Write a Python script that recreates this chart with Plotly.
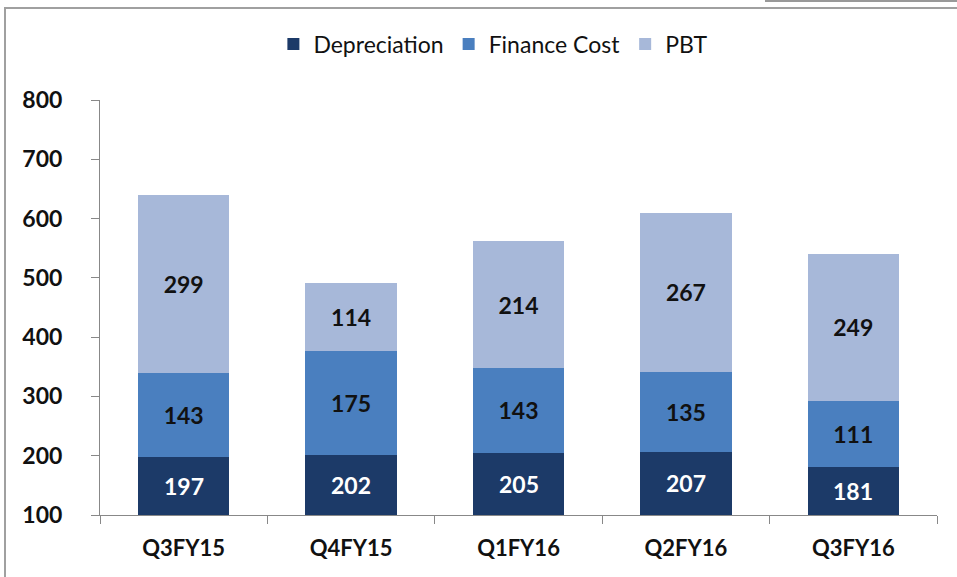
import plotly.graph_objects as go

categories = ["Q3FY15", "Q4FY15", "Q1FY16", "Q2FY16", "Q3FY16"]
depreciation = [197, 202, 205, 207, 181]
finance_cost = [143, 175, 143, 135, 111]
pbt = [299, 114, 214, 267, 249]
y_ticks = [100, 200, 300, 400, 500, 600, 700, 800]

c_dep = "#1c3a68"
c_fin = "#4a7fbf"
c_pbt = "#a7b8d9"

FONT = "Lato, Open Sans, sans-serif"
LBL = 23

fig = go.Figure()
fig.add_trace(go.Bar(name="Depreciation", x=categories, y=depreciation,
                     marker=dict(color=c_dep, line=dict(width=0)), textposition="none"))
fig.add_trace(go.Bar(name="Finance Cost", x=categories, y=finance_cost,
                     marker=dict(color=c_fin, line=dict(width=0)),
                     text=finance_cost, textposition="inside", insidetextanchor="middle",
                     textfont=dict(family=FONT, size=LBL, color="#111111", weight="bold"),
                     textangle=0))
fig.add_trace(go.Bar(name="PBT", x=categories, y=pbt,
                     marker=dict(color=c_pbt, line=dict(width=0)),
                     text=pbt, textposition="inside", insidetextanchor="middle",
                     textfont=dict(family=FONT, size=LBL, color="#111111", weight="bold"),
                     textangle=0))

y_min = y_ticks[0]
for c, d in zip(categories, depreciation):
    fig.add_annotation(x=c, y=(y_min + d) / 2, text=f"<b>{d}</b>", showarrow=False,
                       font=dict(family=FONT, size=LBL, color="white"), xref="x", yref="y")

PX_L, PX_R, PX_T, PX_B = 100, 937, 100, 515
pw, ph = PX_R - PX_L, PX_B - PX_T


def px(x):
    return (x - PX_L) / pw


def py(y):
    return (PX_B - y) / ph


fig.update_layout(
    barmode="stack",
    bargap=0.455,
    width=957, height=577,
    margin=dict(l=PX_L, r=957 - PX_R, t=PX_T, b=577 - PX_B, autoexpand=False),
    paper_bgcolor="white", plot_bgcolor="white",
    font=dict(family=FONT, color="#111111"),
    showlegend=True,
    legend=dict(orientation="h", x=0.47, xanchor="center", y=1.135, yanchor="middle",
                font=dict(family="Liberation Sans Narrow, Lato, sans-serif", size=23, color="#111111"),
                itemwidth=30, traceorder="normal"),
    xaxis=dict(showline=True, linecolor="#888888", linewidth=1, ticks="outside",
               tickson="boundaries", ticklen=8, tickcolor="#888888",
               tickfont=dict(family=FONT, size=22, color="#111111", weight="bold"),
               ticklabelstandoff=14, showgrid=False),
    yaxis=dict(range=[y_ticks[0], y_ticks[-1]], tickvals=y_ticks, showline=True,
               linecolor="#888888", linewidth=1, ticks="outside", ticklen=8,
               tickcolor="#888888", showgrid=False, zeroline=False,
               ticklabelstandoff=24,
               tickfont=dict(family=FONT, size=23, color="#111111", weight="bold")),
    shapes=[
        dict(type="rect", xref="paper", yref="paper", x0=px(5), x1=px(970), y0=py(590), y1=py(8),
             line=dict(color="#a0a0a0", width=2), fillcolor="rgba(0,0,0,0)", layer="above"),
        dict(type="line", xref="paper", yref="paper", x0=px(765), x1=px(957), y0=py(1), y1=py(1),
             line=dict(color="#999999", width=2), layer="above"),
    ],
)

fig.write_html("out.html", config={"displayModeBar": False},
               post_script="document.body.style.margin='0';")
